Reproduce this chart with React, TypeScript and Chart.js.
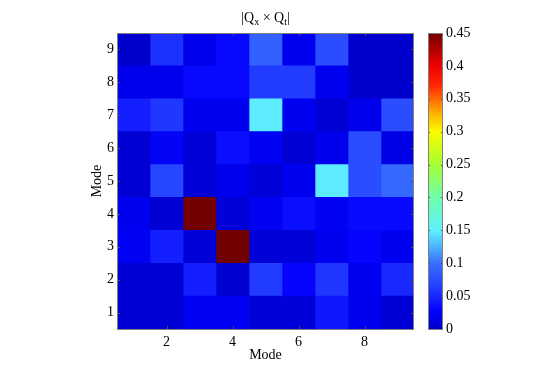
import React, { useEffect, useRef } from 'react';
import { Chart, registerables } from 'chart.js';

Chart.register(...registerables);

// ---- data ----
const ROW_LABELS = ['9', '8', '7', '6', '5', '4', '3', '2', '1'];
const COLUMNS = [1, 2, 3, 4, 5, 6, 7, 8, 9];
const X_TICKS = [2, 4, 6, 8];

const MODE_9 = [0.002, 0.055, 0.018, 0.032, 0.09, 0.02, 0.075, 0.003, 0.003];
const MODE_8 = [0.018, 0.018, 0.032, 0.032, 0.063, 0.063, 0.02, 0.003, 0.003];
const MODE_7 = [0.045, 0.06, 0.02, 0.02, 0.148, 0.02, 0.006, 0.018, 0.075];
const MODE_6 = [0.006, 0.025, 0.008, 0.035, 0.022, 0.006, 0.018, 0.075, 0.015];
const MODE_5 = [0.006, 0.07, 0.008, 0.018, 0.008, 0.02, 0.148, 0.075, 0.095];
const MODE_4 = [0.02, 0.006, 0.45, 0.008, 0.022, 0.035, 0.022, 0.033, 0.033];
const MODE_3 = [0.022, 0.045, 0.008, 0.45, 0.008, 0.008, 0.02, 0.03, 0.02];
const MODE_2 = [0.006, 0.006, 0.045, 0.004, 0.063, 0.03, 0.06, 0.02, 0.05];
const MODE_1 = [0.006, 0.006, 0.022, 0.022, 0.008, 0.008, 0.04, 0.02, 0.006];

const ROWS = [MODE_9, MODE_8, MODE_7, MODE_6, MODE_5, MODE_4, MODE_3, MODE_2, MODE_1];

const CBAR_MIN = 0;
const CBAR_MAX = 0.45;
const CBAR_TICKS = [0, 0.05, 0.1, 0.15, 0.2, 0.25, 0.3, 0.35, 0.4, 0.45];

// jet-like colormap: [value, r, g, b]
const JET_STOPS: [number, number, number, number][] = [
  [0, 0, 0, 200],
  [0.02, 0, 0, 240],
  [0.03, 5, 5, 255],
  [0.05, 25, 40, 255],
  [0.08, 45, 85, 255],
  [0.1, 55, 110, 255],
  [0.125, 75, 180, 255],
  [0.15, 95, 240, 255],
  [0.2, 110, 255, 170],
  [0.25, 165, 255, 50],
  [0.3, 250, 250, 0],
  [0.33, 255, 170, 0],
  [0.37, 255, 40, 0],
  [0.4, 240, 0, 0],
  [0.45, 115, 0, 0],
];

const FONT = { family: 'Liberation Serif', size: 14 };

function colorFor(v: number): string {
  const s = JET_STOPS;
  if (v <= s[0][0]) return `rgb(${s[0][1]},${s[0][2]},${s[0][3]})`;
  for (let i = 1; i < s.length; i++) {
    if (v <= s[i][0]) {
      const t = (v - s[i - 1][0]) / (s[i][0] - s[i - 1][0]);
      const r = Math.round(s[i - 1][1] + t * (s[i][1] - s[i - 1][1]));
      const g = Math.round(s[i - 1][2] + t * (s[i][2] - s[i - 1][2]));
      const b = Math.round(s[i - 1][3] + t * (s[i][3] - s[i - 1][3]));
      return `rgb(${r},${g},${b})`;
    }
  }
  const l = s[s.length - 1];
  return `rgb(${l[1]},${l[2]},${l[3]})`;
}

const frameColor = '#808080';
const tickColor = '#4a4a4a';

const heatFramePlugin = {
  id: 'heatFrame',
  afterDatasetsDraw(chart: any) {
    const { ctx, chartArea: a, scales } = chart;
    ctx.save();
    ctx.strokeStyle = tickColor;
    ctx.lineWidth = 1;
    ctx.beginPath();
    X_TICKS.forEach((v) => {
      const px = Math.round(scales.x.getPixelForValue(v)) + 0.5;
      ctx.moveTo(px, a.bottom);
      ctx.lineTo(px, a.bottom - 3);
      ctx.moveTo(px, a.top);
      ctx.lineTo(px, a.top + 3);
    });
    ROW_LABELS.forEach((_, i) => {
      const py = Math.round(scales.y.getPixelForValue(i)) + 0.5;
      ctx.moveTo(a.left, py);
      ctx.lineTo(a.left + 3, py);
      ctx.moveTo(a.right, py);
      ctx.lineTo(a.right - 3, py);
    });
    ctx.stroke();
    ctx.strokeStyle = frameColor;
    ctx.strokeRect(Math.floor(a.left) + 0.5, Math.floor(a.top) + 0.5, Math.round(a.right - a.left) - 1, Math.round(a.bottom - a.top));
    ctx.restore();
  },
  afterDraw(chart: any) {
    const { ctx, chartArea: a } = chart;
    ctx.save();
    ctx.fillStyle = '#000';
    ctx.textBaseline = 'alphabetic';
    const big = '14px "Liberation Serif"';
    const small = '10px "Liberation Serif"';
    const parts: [string, string, number][] = [
      ['|Q', big, 0],
      ['x', small, 3],
      [' \u00d7 Q', big, 0],
      ['t', small, 3],
      ['|', big, 0],
    ];
    let total = 0;
    parts.forEach(([t, f]) => {
      ctx.font = f;
      total += ctx.measureText(t).width;
    });
    let x = (a.left + a.right) / 2 - total / 2;
    const base = 21.5;
    parts.forEach(([t, f, dy]) => {
      ctx.font = f;
      ctx.fillText(t, x, base + dy);
      x += ctx.measureText(t).width;
    });
    ctx.restore();
  },
};

const cbarFramePlugin = {
  id: 'cbarFrame',
  afterDatasetsDraw(chart: any) {
    const { ctx, chartArea: a, scales } = chart;
    ctx.save();
    ctx.strokeStyle = tickColor;
    ctx.lineWidth = 1;
    ctx.beginPath();
    CBAR_TICKS.forEach((v) => {
      const py = Math.round(scales.y.getPixelForValue(v)) + 0.5;
      ctx.moveTo(a.left, py);
      ctx.lineTo(a.left + 2, py);
      ctx.moveTo(a.right, py);
      ctx.lineTo(a.right - 2, py);
    });
    ctx.stroke();
    ctx.strokeStyle = frameColor;
    ctx.strokeRect(Math.floor(a.left) + 0.5, Math.floor(a.top) + 0.5, Math.round(a.right - a.left) - 1, Math.round(a.bottom - a.top));
    ctx.restore();
  },
};

export default function App() {
  const heatRef = useRef<HTMLCanvasElement | null>(null);
  const cbarRef = useRef<HTMLCanvasElement | null>(null);

  useEffect(() => {
    if (!heatRef.current || !cbarRef.current) return;

    const heat = new Chart(heatRef.current, {
      type: 'bar',
      data: {
        labels: ROW_LABELS,
        datasets: COLUMNS.map((c, j) => ({
          label: `col ${c}`,
          data: ROWS.map(() => [c - 0.5, c + 0.5]),
          backgroundColor: ROWS.map((r) => colorFor(r[j])),
          borderWidth: 0,
          barPercentage: 1,
          categoryPercentage: 1,
          grouped: false,
        })),
      } as any,
      options: {
        indexAxis: 'y',
        responsive: false,
        animation: false,
        devicePixelRatio: 1,
        layout: { padding: { left: 85, right: 136, top: 33, bottom: 0 } },
        plugins: { legend: { display: false }, tooltip: { enabled: false }, title: { display: false } },
        scales: {
          x: {
            type: 'linear',
            min: 0.5,
            max: 9.5,
            grid: { display: false, drawTicks: false },
            border: { display: false },
            ticks: { padding: 5, font: FONT, color: '#000', maxRotation: 0, autoSkip: false },
            afterBuildTicks: (s: any) => {
              s.ticks = X_TICKS.map((v) => ({ value: v }));
            },
            afterFit: (s: any) => {
              s.height = 42;
            },
            title: { display: true, text: 'Mode', font: FONT, color: '#000', padding: { top: 0, bottom: 7 } },
          },
          y: {
            type: 'category',
            grid: { display: false, drawTicks: false },
            border: { display: false },
            ticks: { padding: 3, font: FONT, color: '#000', autoSkip: false },
            afterFit: (s: any) => {
              s.width = 32;
            },
            title: { display: true, text: 'Mode', font: FONT, color: '#000', padding: { top: 4, bottom: 0 } },
          },
        },
      } as any,
      plugins: [heatFramePlugin],
    });

    const cbar = new Chart(cbarRef.current, {
      type: 'bar',
      data: {
        labels: [''],
        datasets: [
          {
            label: 'colorbar',
            data: [[CBAR_MIN, CBAR_MAX]],
            backgroundColor: (ctx: any) => {
              const area = ctx.chart.chartArea;
              if (!area) return 'rgb(0,0,200)';
              const g = ctx.chart.ctx.createLinearGradient(0, area.bottom, 0, area.top);
              JET_STOPS.forEach(([v, r, gg, b]) => {
                g.addColorStop((v - CBAR_MIN) / (CBAR_MAX - CBAR_MIN), `rgb(${r},${gg},${b})`);
              });
              return g;
            },
            borderWidth: 0,
            barPercentage: 1,
            categoryPercentage: 1,
          },
        ],
      } as any,
      options: {
        responsive: false,
        animation: false,
        devicePixelRatio: 1,
        layout: { padding: { left: 428, right: 47, top: 33, bottom: 42 } },
        plugins: { legend: { display: false }, tooltip: { enabled: false } },
        scales: {
          x: { display: false },
          y: {
            position: 'right',
            min: CBAR_MIN,
            max: CBAR_MAX,
            grid: { display: false, drawTicks: false },
            border: { display: false },
            ticks: {
              padding: 3,
              font: FONT,
              color: '#000',
              autoSkip: false,
              callback: (v: any) => String(Number(Number(v).toFixed(2))),
            },
            afterBuildTicks: (s: any) => {
              s.ticks = CBAR_TICKS.map((v) => ({ value: v }));
            },
            afterFit: (s: any) => {
              s.width = 60;
            },
          },
        },
      } as any,
      plugins: [cbarFramePlugin],
    });

    return () => {
      heat.destroy();
      cbar.destroy();
    };
  }, []);

  return (
    <div style={{ position: 'fixed', left: 0, top: 0, width: 550, height: 371, background: '#fff' }}>
      <canvas ref={heatRef} width={550} height={371} style={{ position: 'absolute', left: 0, top: 0 }} />
      <canvas ref={cbarRef} width={550} height={371} style={{ position: 'absolute', left: 0, top: 0 }} />
    </div>
  );
}
